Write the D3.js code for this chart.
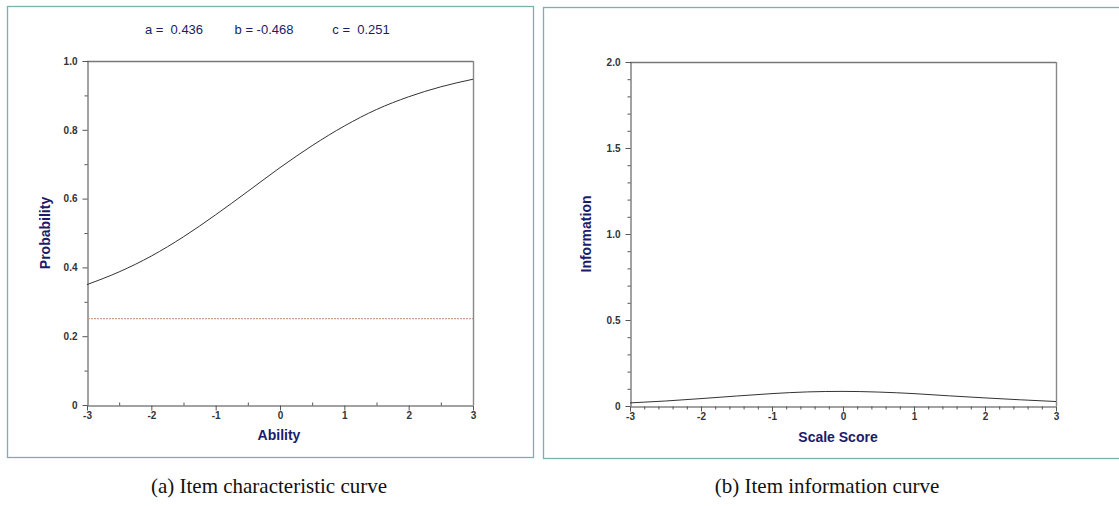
<!DOCTYPE html>
<html><head><meta charset="utf-8">
<script src="https://cdn.jsdelivr.net/npm/d3@7"></script>
<style>
body{margin:0;background:#fff;}
svg{display:block;}
</style></head><body>
<svg id="c" width="1119" height="506"></svg>
<script>
// ---- data ----
const theta = [-3,-2.5,-2,-1.5,-1,-0.5,0,0.5,1,1.5,2,2.5,3];
const probability = [0.350,0.387,0.433,0.489,0.553,0.621,0.690,0.754,0.811,0.859,0.896,0.925,0.947];
const information = [0.018,0.029,0.043,0.058,0.072,0.082,0.085,0.081,0.072,0.059,0.047,0.036,0.026];
const guessing = 0.251;
const params = ["a =  0.436","b = -0.468","c =  0.251"];
const xTicks = [-3,-2,-1,0,1,2,3];
const yTicksA = [0,0.2,0.4,0.6,0.8,1.0];
const yTicksB = [0,0.5,1.0,1.5,2.0];
const captions = ["(a) Item characteristic curve","(b) Item information curve"];

const svg = d3.select("#c");
const navy = "#1b1b6b";
const border = "#79b0b0";

// panel borders
svg.append("rect").attr("x",7.5).attr("y",6.5).attr("width",526).attr("height",451)
  .attr("fill","none").attr("stroke",border).attr("stroke-width",1.3);
svg.append("rect").attr("x",543.5).attr("y",7.5).attr("width",600).attr("height",451)
  .attr("fill","none").attr("stroke",border).attr("stroke-width",1.3);

function yFmt(d){return d===0?"0":d3.format(".1f")(d);}

function panel(opt){
  const g = svg.append("g");
  const x = d3.scaleLinear().domain([-3,3]).range([opt.x0,opt.x1]);
  const y = d3.scaleLinear().domain([0,opt.ymax]).range([opt.y0,opt.y1]);
  // frame top & right
  g.append("line").attr("x1",opt.x0).attr("x2",opt.x1).attr("y1",opt.y1+0.5).attr("y2",opt.y1+0.5)
    .attr("stroke","#777").attr("stroke-width",1.4);
  g.append("line").attr("x1",opt.x1+0.5).attr("x2",opt.x1+0.5).attr("y1",opt.y1).attr("y2",opt.y0)
    .attr("stroke","#888").attr("stroke-width",1.4);
  // minor ticks y
  const yMinor = d3.range(0,opt.ymax+1e-9,0.1).map(v=>+v.toFixed(2)).filter(v=>!opt.yTicks.some(t=>Math.abs(t-v)<1e-6));
  const ya = d3.axisLeft(y).tickValues(yMinor).tickSize(3).tickFormat("");
  const gy2 = g.append("g").attr("transform",`translate(${opt.x0+0.5},0)`).call(ya);
  gy2.select(".domain").remove();
  gy2.selectAll("line").attr("stroke","#555");
  const yAxis = d3.axisLeft(y).tickValues(opt.yTicks).tickSize(5).tickSizeOuter(0).tickFormat(yFmt).tickPadding(5);
  const gy = g.append("g").attr("transform",`translate(${opt.x0+0.5},0)`).call(yAxis);
  gy.select(".domain").attr("stroke","#444");
  gy.selectAll("line").attr("stroke","#555");
  gy.selectAll("text").attr("font-family","Arial, Liberation Sans, sans-serif").attr("font-weight","bold")
    .attr("font-size",10).attr("fill","#333");
  // x minor ticks
  const xMinor = d3.range(-3,3+1e-9,opt.xMinorStep).map(v=>+v.toFixed(2)).filter(v=>!xTicks.includes(v));
  const xm = opt.minorUp ? d3.axisTop(x) : d3.axisBottom(x);
  const gx2 = g.append("g").attr("transform",`translate(0,${opt.y0+0.5})`).call(xm.tickValues(xMinor).tickSize(3).tickFormat(""));
  gx2.select(".domain").remove();
  gx2.selectAll("line").attr("stroke","#555");
  const gx = g.append("g").attr("transform",`translate(0,${opt.y0+0.5})`)
    .call(d3.axisBottom(x).tickValues(xTicks).tickSize(5).tickSizeOuter(0).tickPadding(1));
  gx.select(".domain").attr("stroke","#444");
  gx.selectAll("line").attr("stroke","#555");
  gx.selectAll("text").attr("font-family","Arial, Liberation Sans, sans-serif").attr("font-weight","bold")
    .attr("font-size",10).attr("fill","#333").text(d=>d<0?"-"+Math.abs(d):d);
  // labels
  g.append("text").attr("transform",`translate(${opt.ylx},${(opt.y0+opt.y1)/2}) rotate(-90)`)
    .attr("text-anchor","middle").attr("dominant-baseline","middle")
    .attr("font-family","Arial, Liberation Sans, sans-serif").attr("font-weight","bold")
    .attr("font-size",14).attr("fill",navy).text(opt.ylabel);
  g.append("text").attr("x",opt.xlx).attr("y",opt.xly)
    .attr("text-anchor","middle").attr("dominant-baseline","middle")
    .attr("font-family","Arial, Liberation Sans, sans-serif").attr("font-weight","bold")
    .attr("font-size",14).attr("fill",navy).text(opt.xlabel);
  return {g,x,y};
}

// Panel A
const A = panel({x0:87,x1:473,y0:405,y1:61,ymax:1,yTicks:yTicksA,xMinorStep:0.5,minorUp:true,
  ylabel:"Probability",xlabel:"Ability",ylx:46,xly:436,xlx:279});
A.g.append("line").attr("x1",A.x(-3)+1).attr("x2",A.x(3)).attr("y1",A.y(guessing)).attr("y2",A.y(guessing))
  .attr("stroke","#c9a08c").attr("stroke-width",1.2).attr("stroke-dasharray","2,1");
A.g.append("path").datum(theta.map((t,i)=>[t,probability[i]]))
  .attr("d",d3.line().x(d=>A.x(d[0])).y(d=>A.y(d[1])).curve(d3.curveMonotoneX))
  .attr("fill","none").attr("stroke","#333").attr("stroke-width",1);

// parameter text
const paramX = [174,264,361];
svg.selectAll(".param").data(params).join("text").attr("class","param")
  .attr("x",(d,i)=>paramX[i]).attr("y",31).attr("text-anchor","middle").attr("dominant-baseline","middle")
  .attr("font-family","Arial, Liberation Sans, sans-serif").attr("font-size",13).attr("fill",navy)
  .attr("xml:space","preserve").style("white-space","pre").text(d=>d);

// Panel B
const B = panel({x0:630,x1:1056,y0:406,y1:62,ymax:2,yTicks:yTicksB,xMinorStep:0.2,minorUp:false,
  ylabel:"Information",xlabel:"Scale Score",ylx:587,xly:438,xlx:838});
B.g.append("path").datum(theta.map((t,i)=>[t,information[i]]))
  .attr("d",d3.line().x(d=>B.x(d[0])).y(d=>B.y(d[1])).curve(d3.curveMonotoneX))
  .attr("fill","none").attr("stroke","#333").attr("stroke-width",1);

// captions
const capX = [269,827];
svg.selectAll(".cap").data(captions).join("text").attr("class","cap")
  .attr("x",(d,i)=>capX[i]).attr("y",488).attr("text-anchor","middle").attr("dominant-baseline","middle")
  .attr("font-family","Liberation Serif, DejaVu Serif, serif").attr("font-size",21).attr("fill","#111")
  .text(d=>d);
</script>
</body></html>
